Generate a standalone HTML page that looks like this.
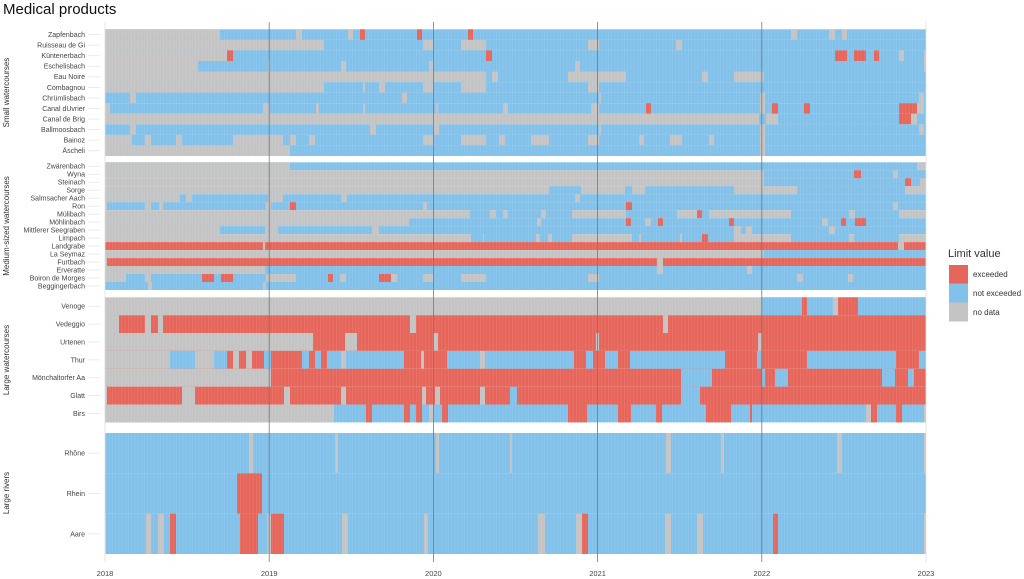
<!DOCTYPE html>
<html><head><meta charset="utf-8"><style>
body{margin:0;background:#fff;width:1024px;height:579px;overflow:hidden;font-family:"Liberation Sans",sans-serif}
</style></head><body>
<svg id="s" width="1024" height="579" xmlns="http://www.w3.org/2000/svg" style="position:absolute;left:0;top:0"></svg>
<script>
const R='#e6665b',B='#82c1ea',G='#c4c4c4';
const X0=105,X1=926;
// rows: [label, y0, y1, default, segments [x0,x1,c]]
function seg(s){return s;}
const rows=[
['Zapfenbach',29.3,39.9,B,[[105,220,G],[296,302,G],[348,353,G],[360,365,R],[417,422,R],[468,473,R],[791,797,G],[829,835,G],[842,847,G]]],
['Ruisseau de Gi',39.9,50.4,B,[[105,324,G],[423,434,G],[461,486,G],[588,599,G],[676,682,G]]],
['Küntenerbach',50.4,61,B,[[105,227,G],[227,233,R],[486,492,R],[835,847,R],[854,866,R],[874,879,R],[899,904,G],[924,926,G]]],
['Eschelisbach',61,71.5,B,[[105,198,G],[268,270,G],[341,346,G],[429,434,G],[575,580,G],[924,926,G]]],
['Eau Noire',71.5,82.1,B,[[105,486,G],[492,498,G],[568,626,G],[702,708,G],[734,764,G]]],
['Combagnou',82.1,92.6,B,[[105,324,G],[363,365,G],[379,385,G],[423,434,G],[461,486,G],[588,599,G]]],
['Chrümlisbach',92.6,103.2,B,[[130,136,G],[402,407,G],[599,601,G],[760,765,G],[919,924,G]]],
['Canal dUvrier',103.2,113.8,B,[[105,110,G],[263,270,G],[316,319,G],[363,365,G],[436,438,G],[503,508,G],[591,599,G],[646,651,R],[760,765,G],[772,778,R],[804,810,R],[899,917,R],[917,924,G]]],
['Canal de Brig',113.8,124.3,G,[[759,766,B],[778,899,B],[899,911,R],[917,926,B]]],
['Ballmoosbach',124.3,134.9,B,[[130,136,G],[370,376,G],[434,439,G],[599,601,G],[760,765,G],[919,924,G]]],
['Bainoz',134.9,145.4,B,[[105,132,G],[145,151,G],[176,182,G],[233,283,G],[290,296,G],[309,315,G],[423,434,G],[461,486,G],[499,505,G],[531,549,G],[588,599,G],[639,644,G],[670,682,G],[709,714,G],[760,765,G]]],
['Äscheli',145.4,156,B,[[105,290,G],[760,765,G]]],

['Zwärenbach',162.3,170.3,B,[[105,290,G],[917,926,G]]],
['Wyna',170.3,178.3,G,[[764,926,B],[854,861,R],[893,898,G]]],
['Steinach',178.3,186.2,G,[[764,926,B],[905,911,R],[920,926,G]]],
['Sorge',186.2,194.2,G,[[549,581,B],[625,632,B],[645,734,B],[797,905,B]]],
['Salmsacher Aach',194.2,202.2,B,[[105,180,G],[186,192,G],[268,283,G],[341,347,G],[575,580,G]]],
['Ron',202.2,210.2,B,[[105,107,G],[145,151,G],[159,163,G],[266,271,G],[290,296,R],[423,427,G],[626,632,R],[893,898,G]]],
['Mülibach',210.2,218.2,G,[[470,490,B],[496,503,B],[508,541,B],[546,572,B],[626,677,B],[697,702,R],[702,709,B],[791,849,B],[855,899,B]]],
['Möhlinbach',218.2,226.1,B,[[105,409,G],[537,541,G],[626,631,R],[645,651,G],[658,663,R],[729,734,R],[822,828,G],[841,846,R],[855,866,R]]],
['Mittlerer Seegraben',226.1,234.1,B,[[105,220,G],[265,278,G],[372,379,G],[734,741,G],[746,752,G],[829,835,G]]],
['Limpach',234.1,242.1,G,[[471,483,B],[484,536,B],[540,548,B],[552,572,B],[632,639,B],[641,680,B],[682,702,B],[702,708,R],[708,734,B],[791,849,B],[854,899,B]]],
['Landgrabe',242.1,250.1,R,[[263,265,G],[898,904,G]]],
['La Seymaz',250.1,258.1,G,[[764,926,B]]],
['Furtbach',258.1,266,R,[[105,107,G],[657,663,G]]],
['Erveratte',266,274,B,[[105,265,G],[657,663,G],[747,752,G]]],
['Boiron de Morges',274,282,B,[[105,126,G],[145,151,G],[202,214,R],[221,233,R],[266,296,G],[328,333,R],[340,346,G],[379,391,R],[391,397,G],[423,434,G],[461,486,G],[588,599,G],[797,803,G],[848,853,G]]],
['Beggingerbach',282,290,B,[[148,152,G],[263,266,G]]],

['Venoge',297.3,315.2,G,[[762,802,B],[802,807,R],[807,833,B],[838,858,R],[858,926,B]]],
['Vedeggio',315.2,333,R,[[105,119,G],[145,151,G],[158,163,G],[410,416,G],[663,668,G]]],
['Urtenen',333,350.9,R,[[105,313,G],[345,357,G],[433,438,G],[596,599,G],[758,762,G]]],
['Thur',350.9,368.8,R,[[105,170,G],[170,195,B],[195,214,G],[214,227,B],[233,239,G],[246,252,G],[264,271,B],[302,309,B],[315,321,B],[327,341,B],[341,346,G],[346,404,B],[421,424,G],[447,480,B],[480,485,G],[485,574,B],[586,593,B],[605,618,B],[630,725,B],[757,762,B],[807,896,B],[919,926,B]]],
['Mönchaltorfer Aa',368.8,386.7,R,[[105,271,G],[681,712,B],[762,765,B],[775,788,B],[882,895,B],[908,914,B]]],
['Glatt',386.7,404.5,R,[[105,107,G],[182,195,G],[284,290,G],[341,346,G],[422,426,G],[435,440,G],[480,485,G],[510,517,B],[681,700,B]]],
['Birs',404.5,422.4,B,[[105,334,G],[366,372,R],[404,410,R],[416,422,R],[429,433,G],[442,448,R],[568,587,R],[618,631,R],[656,662,R],[706,731,R],[750,752,R],[866,871,G],[871,877,R],[896,902,R],[924,926,G]]],

['Rhône',433,473.3,B,[[249,253,G],[335,338,G],[436,439,G],[510,512,G],[666,671,G],[721,724,G],[837,842,G],[924,926,G]]],
['Rhein',473.3,513.7,B,[[237,262,R]]],
['Aare',513.7,554,B,[[105,106,G],[146,151,G],[158,164,G],[170,176,R],[240,258,R],[267,271,G],[271,284,R],[342,348,G],[424,428,G],[538,545,G],[576,582,G],[582,588,R],[665,671,G],[697,703,G],[773,778,R],[924,926,G]]],
];
let h='';
h+='<defs><pattern id="st" width="3.2" height="10" patternUnits="userSpaceOnUse"><rect x="0" y="0" width="0.6" height="10" fill="#fff" fill-opacity="0.12"/></pattern></defs>';
h+='<text x="3" y="14" font-size="15" fill="#111">Medical products</text>';
// tick lines
for(const r of rows){const cy=(r[1]+r[2])/2;h+=`<line x1="88" x2="100" y1="${cy}" y2="${cy}" stroke="#e6e6e6" stroke-width="0.8"/>`;
 h+=`<text x="85" y="${cy+2.4}" font-size="7" fill="#444" text-anchor="end">${r[0]}</text>`;}
for(const r of rows){
 h+=`<rect x="${X0}" y="${r[1]}" width="${X1-X0}" height="${r[2]-r[1]}" fill="${r[3]}"/>`;
 for(const s of r[4]) h+=`<rect x="${s[0]}" y="${r[1]}" width="${s[1]-s[0]}" height="${r[2]-r[1]}" fill="${s[2]}"/>`;
}
for(const p of [[29.3,156],[162.3,290],[297.3,422.4],[433,554]]) h+=`<rect x="${X0}" y="${p[0]}" width="${X1-X0}" height="${p[1]-p[0]}" fill="url(#st)"/>`;
const yrs=[2018,2019,2020,2021,2022,2023];
yrs.forEach((y,i)=>{const x=X0+i*164.2;
 if(i>0&&i<5)h+=`<line x1="${x}" x2="${x}" y1="22" y2="562" stroke="#777" stroke-width="0.8"/>`;
 else h+=`<line x1="${x}" x2="${x}" y1="22" y2="562" stroke="#ddd" stroke-width="0.8"/>`;
 h+=`<text x="${x}" y="576" font-size="7.5" fill="#444" text-anchor="middle">${y}</text>`;});
const pl=[['Small watercourses',92.6],['Medium-sized watercourses',226],['Large watercourses',360],['Large rivers',493]];
for(const p of pl) h+=`<text transform="translate(9,${p[1]}) rotate(-90)" font-size="8" fill="#333" text-anchor="middle">${p[0]}</text>`;
h+='<text x="948" y="257" font-size="11" fill="#333">Limit value</text>';
h+=`<rect x="949" y="265" width="19" height="18.5" fill="${R}"/><rect x="949" y="283.5" width="19" height="19" fill="${B}"/><rect x="949" y="302.5" width="19" height="19" fill="${G}"/>`;
h+='<text x="973" y="277" font-size="8" fill="#333">exceeded</text><text x="973" y="296" font-size="8" fill="#333">not exceeded</text><text x="973" y="315" font-size="8" fill="#333">no data</text>';
document.getElementById('s').innerHTML=h;
</script>
</body></html>
